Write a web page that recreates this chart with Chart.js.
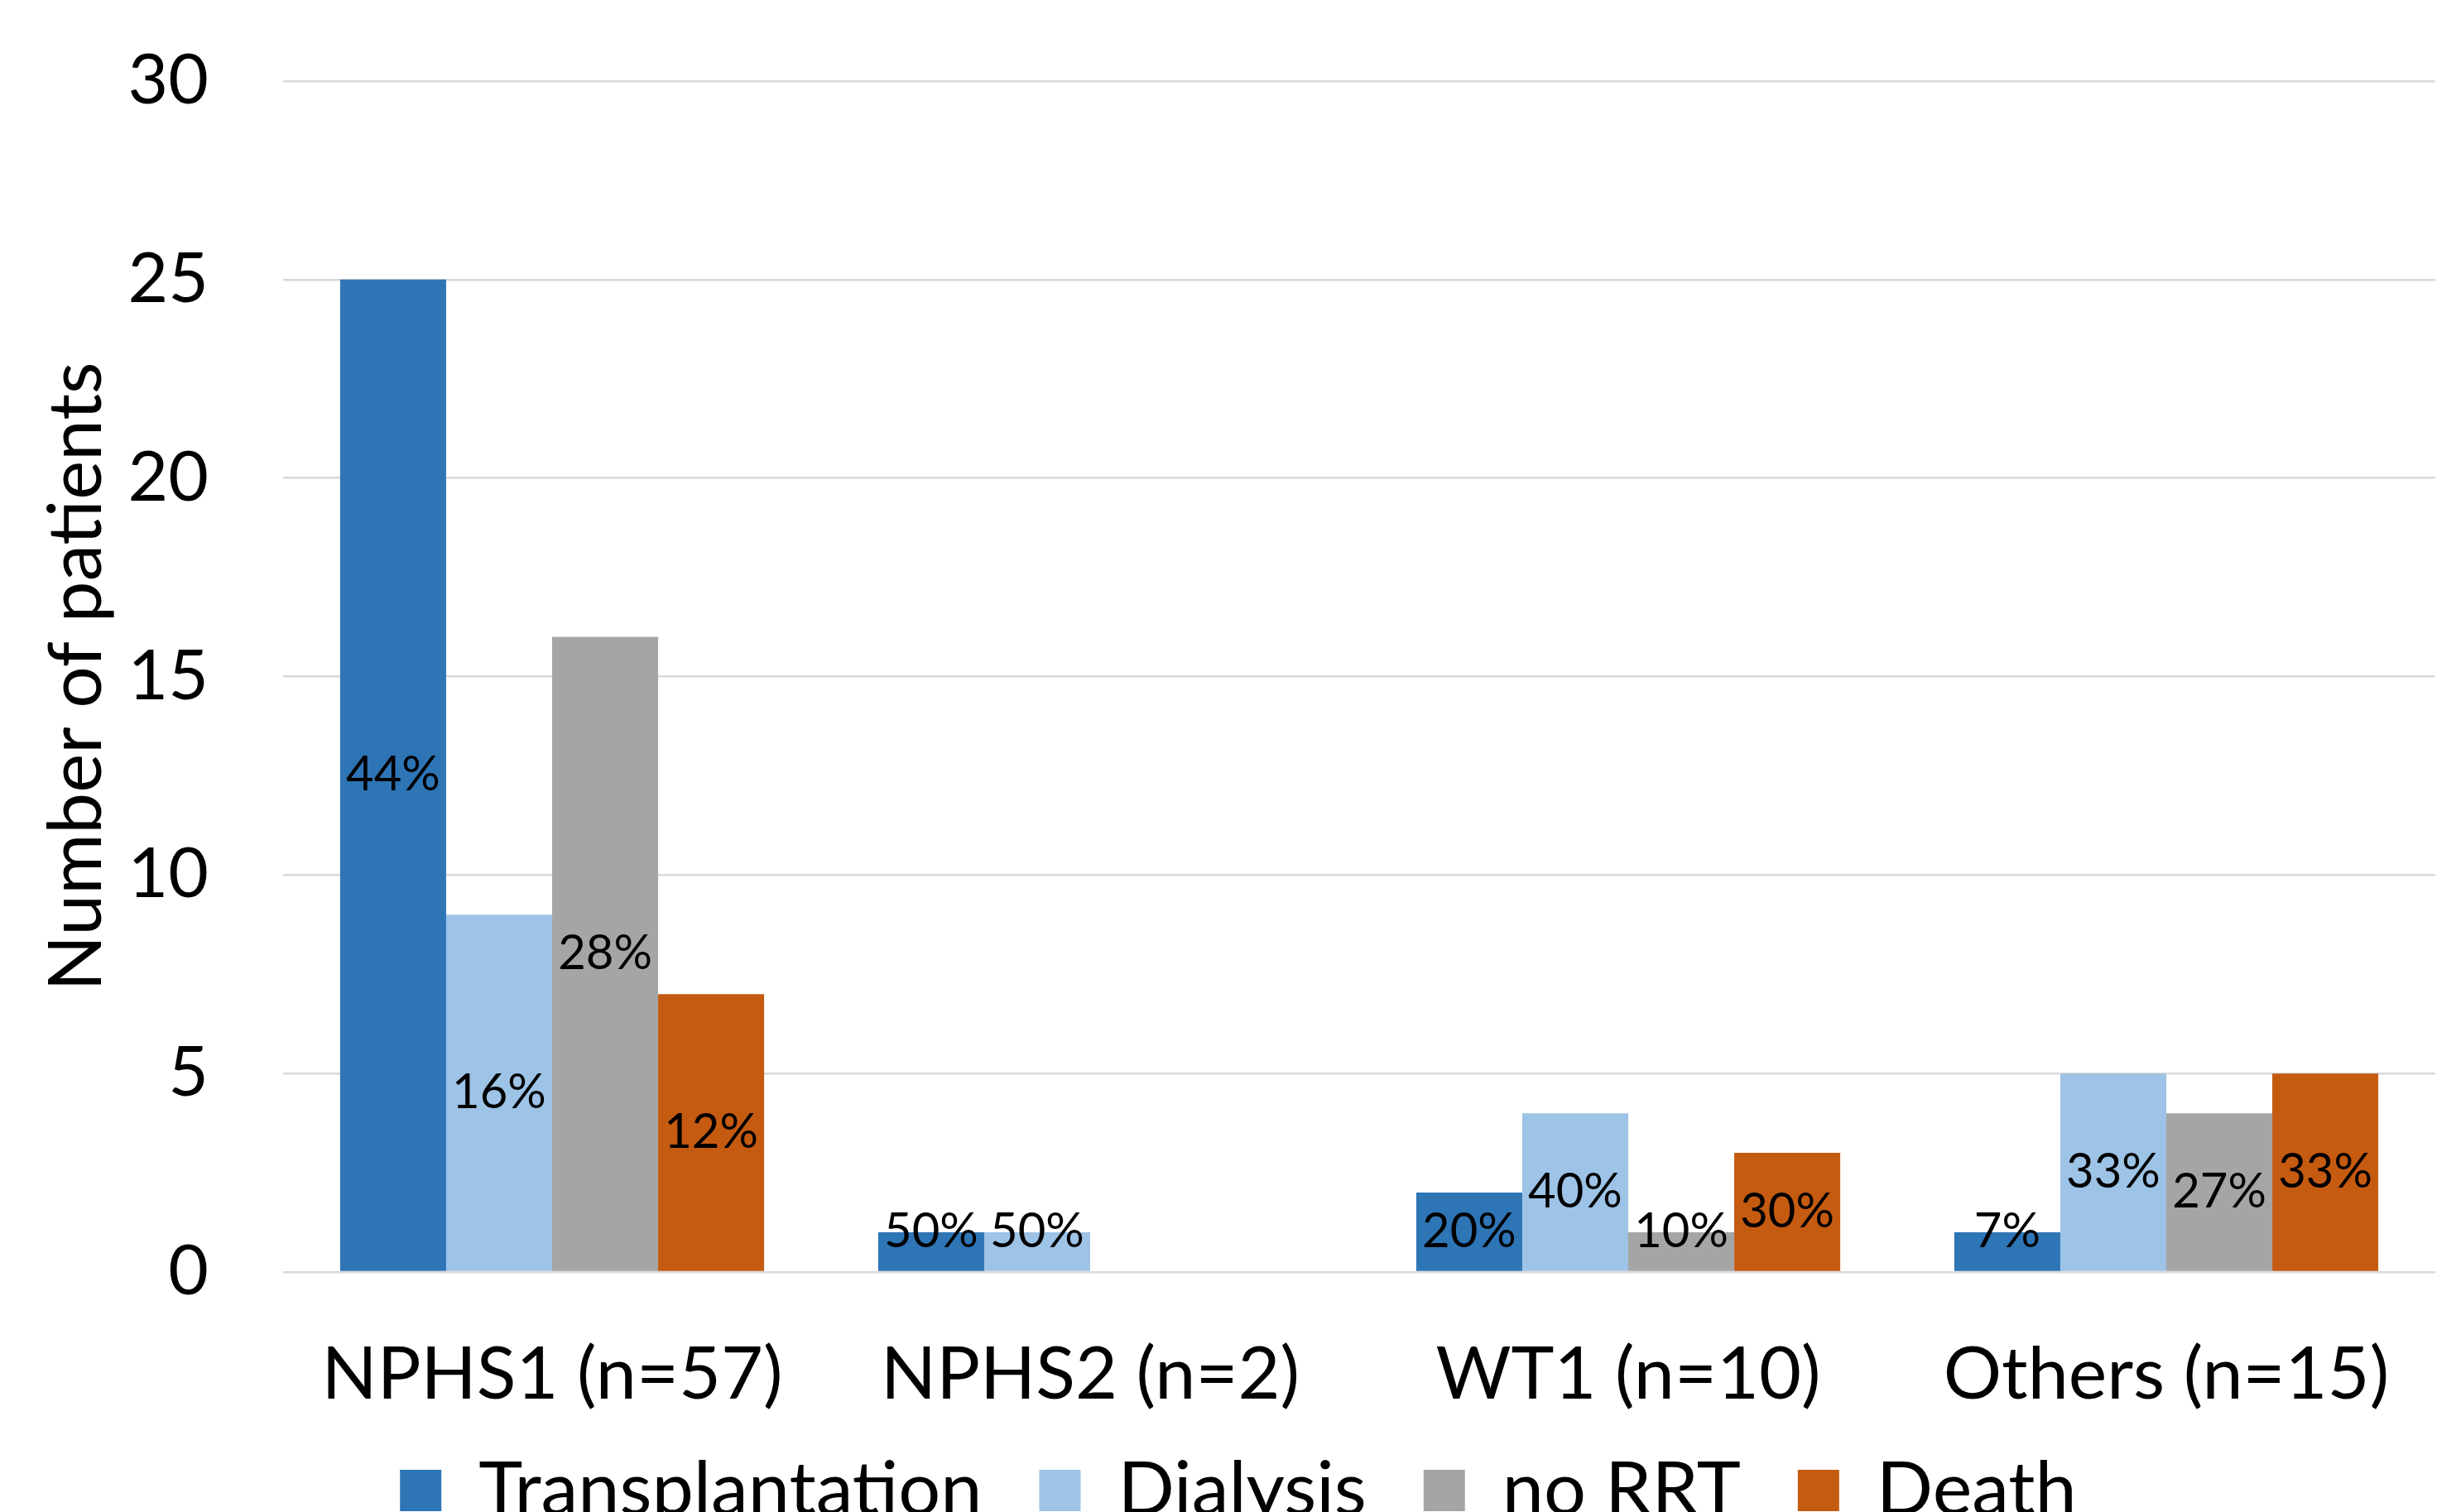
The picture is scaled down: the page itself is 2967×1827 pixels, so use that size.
<!DOCTYPE html>
<html>
<head>
<meta charset="utf-8">
<script src="https://cdn.jsdelivr.net/npm/chart.js@4.4.0/dist/chart.umd.min.js"></script>
<style>
    html, body { margin: 0; padding: 0; background: #fff; overflow: hidden; }
    #frame { width: 2967px; height: 1827px; overflow: hidden; position: relative; }
    canvas { display: block; }
</style>
</head>
<body>
<div id="frame">
    <canvas id="chart" width="2967" height="1856"></canvas>
</div>
<script>
// gene groups and their patient totals
const genes = ["NPHS1", "NPHS2", "WT1", "Others"];
const groupTotals = [57, 2, 10, 15];

// outcome counts per gene group
const transplantation = [25, 1, 2, 1];
const dialysis = [9, 1, 4, 5];
const noRRT = [16, 0, 1, 4];
const death = [7, 0, 3, 5];

const yTicks = [0, 5, 10, 15, 20, 25, 30];

const FONT = "Lato, 'Open Sans', sans-serif";

const categoryLabels = genes.map((g, i) => g + " (n=" + groupTotals[i] + ")");

/**
 * Draws the percentage of the group in the middle of each bar, pushed up
 * a bit when the bar is too short to hold the text.
 */
const percentLabels = {
    id: "percentLabels",
    afterLayout(chart) {
        // the x labels hang lower than the axis box, don't let them be clipped
        const x = chart.scales.x;
        x.bottom = x.top + 260;
    },
    afterDatasetsDraw(chart) {
        const ctx = chart.ctx;
        ctx.save();
        ctx.fillStyle = "#000";
        ctx.font = "58px " + FONT;
        ctx.textAlign = "center";
        ctx.textBaseline = "middle";
        chart.data.datasets.forEach((ds, di) => {
            const meta = chart.getDatasetMeta(di);
            meta.data.forEach((bar, i) => {
                const value = ds.data[i];
                if (!value) {
                    return;
                }
                const pct = Math.round(value / groupTotals[i] * 100) + "%";
                const middle = (bar.y + bar.base) / 2;
                const y = Math.min(middle, bar.base - 47);
                ctx.fillText(pct, bar.x, y);
            });
        });
        ctx.restore();
    },
};

const dataset = (label, data, color) => ({
    label: label,
    data: data,
    backgroundColor: color,
    borderWidth: 0,
    categoryPercentage: 0.788,
    barPercentage: 1.0,
});

new Chart(document.getElementById("chart"), {
    type: "bar",
    data: {
        labels: categoryLabels,
        datasets: [
            dataset("Transplantation", transplantation, "#2E75B6"),
            dataset("Dialysis", dialysis, "#9DC3E6"),
            dataset("no RRT", noRRT, "#A5A5A5"),
            dataset("Death", death, "#C55A11"),
        ],
    },
    options: {
        responsive: false,
        animation: false,
        devicePixelRatio: 1,
        layout: {
            padding: {left: 50, right: 25, top: 98, bottom: 0},
        },
        plugins: {
            legend: {
                position: "bottom",
                labels: {
                    boxWidth: 50,
                    boxHeight: 50,
                    padding: 69,
                    color: "#000",
                    font: {family: FONT, size: 90},
                },
            },
            tooltip: {enabled: false},
        },
        scales: {
            x: {
                grid: {display: false},
                border: {display: false},
                ticks: {
                    color: "#000",
                    padding: 64,
                    maxRotation: 0,
                    font: {family: FONT, size: 88},
                },
                afterFit: (scale) => {
                    scale.height = 150;
                },
            },
            y: {
                min: 0,
                max: 30,
                afterBuildTicks: (scale) => {
                    scale.ticks = yTicks.map((v) => ({value: v}));
                },
                grid: {
                    color: "#D9D9D9",
                    lineWidth: 2.5,
                    drawTicks: false,
                },
                border: {display: false},
                ticks: {
                    color: "#000",
                    padding: 90,
                    font: {family: FONT, size: 84},
                },
                title: {
                    display: true,
                    text: "Number of patients",
                    color: "#000",
                    font: {family: FONT, size: 89, lineHeight: 0.9},
                    padding: {top: 3, bottom: 0},
                },
                afterFit: (scale) => {
                    scale.width = 292;
                    // the top tick label may stick out above the plot
                    scale.paddingTop = 0;
                    scale.paddingBottom = 0;
                },
            },
        },
    },
    plugins: [percentLabels],
});
</script>
</body>
</html>
